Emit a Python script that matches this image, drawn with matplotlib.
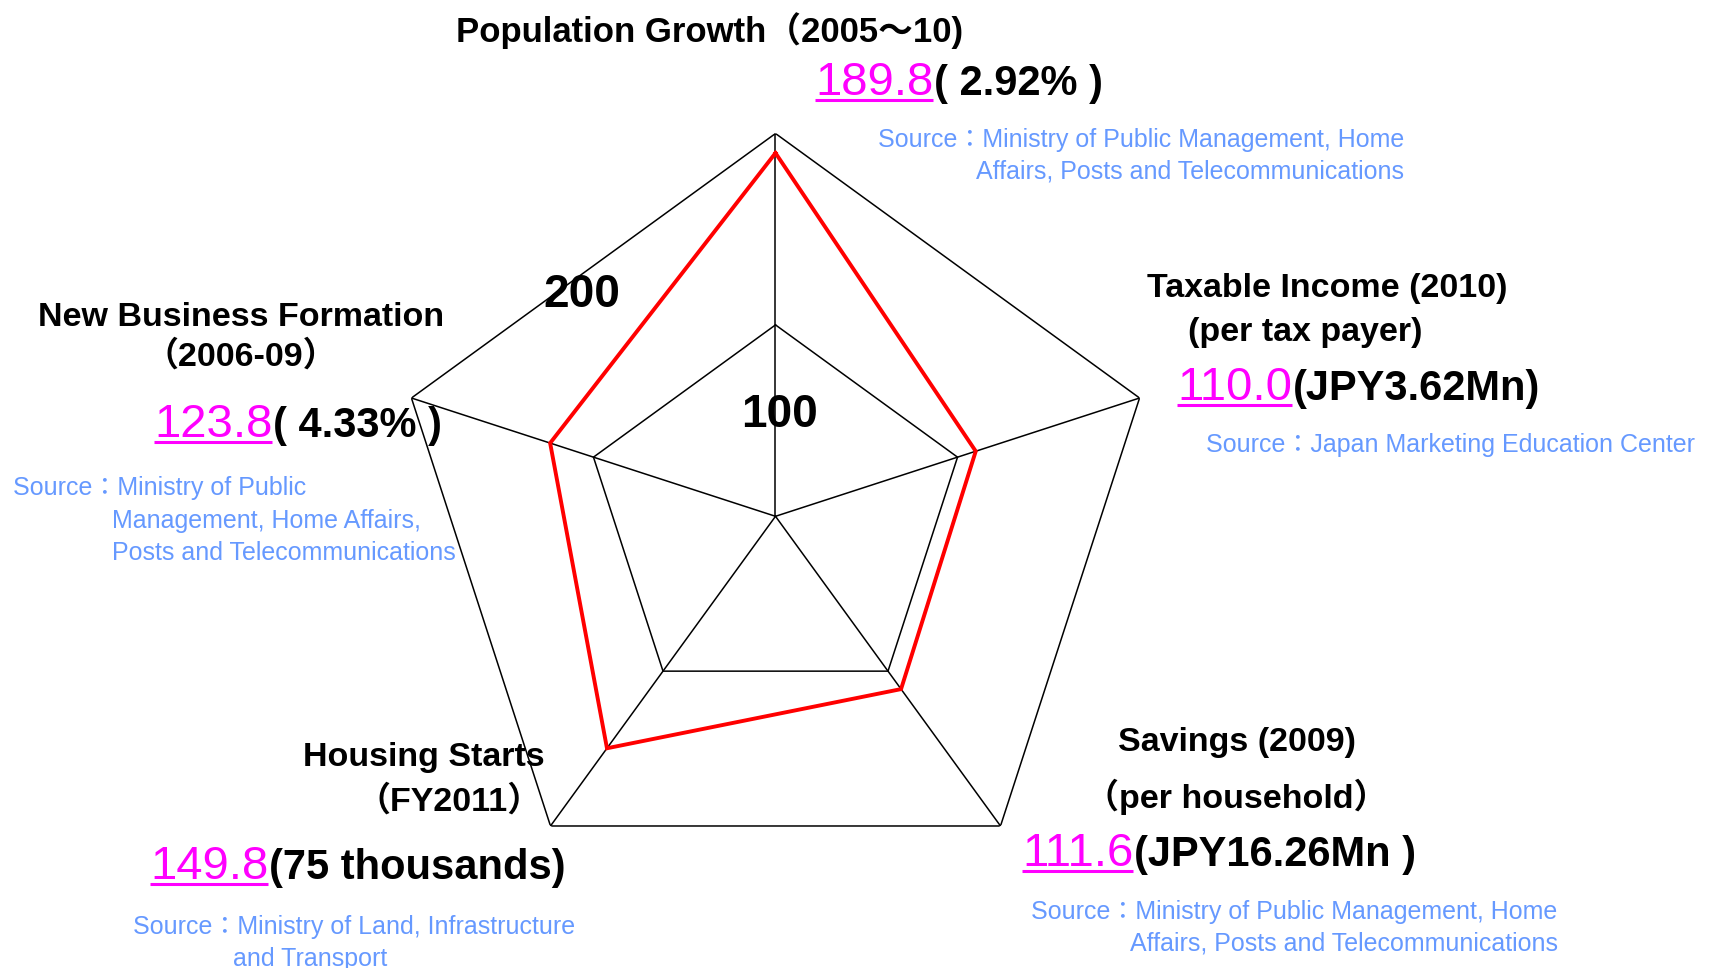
import numpy as np
import matplotlib
matplotlib.use('Agg')
import matplotlib.pyplot as plt

W, H = 1715, 968

categories = ['Population Growth', 'Taxable Income', 'Savings', 'Housing Starts', 'New Business Formation']
values = [189.8, 110.0, 111.6, 149.8, 123.8]
grid_levels = [100, 200]
value_notes = ['( 2.92% )', '(JPY3.62Mn)', '(JPY16.26Mn )', '(75 thousands)', '( 4.33% )']

plt.rcParams['font.family'] = ['Liberation Sans', 'Noto Sans CJK JP', 'DejaVu Sans']

MAGENTA = '#ff00ff'
BLUE = '#6699ff'

fig = plt.figure(figsize=(W / 100, H / 100), dpi=100)
fig.patch.set_facecolor('white')

# radar in a polar axes, centre at (775, 516) px from top, radius 383 px
cx, cy, rad = 775.5, 516.3, 382.8
ax = fig.add_axes([(cx - rad) / W, (H - cy - rad) / H, 2 * rad / W, 2 * rad / H], projection='polar')
ax.set_theta_offset(np.pi / 2)
ax.set_theta_direction(-1)
ax.set_ylim(0, 200)
ax.grid(False)
ax.spines['polar'].set_visible(False)
ax.set_xticks([])
ax.set_yticks([])
ax.patch.set_alpha(0)

n = len(categories)
theta = np.linspace(0, 2 * np.pi, n, endpoint=False)
theta_c = np.append(theta, theta[0])
for lvl in grid_levels:
    ax.plot(theta_c, [lvl] * (n + 1), color='black', lw=1.1, solid_joinstyle='miter')
for t in theta:
    ax.plot([t, t], [0, grid_levels[-1]], color='black', lw=1.1)
ax.plot(theta_c, values + values[:1], color='#ff0000', lw=2.8, solid_joinstyle='miter')

# overlay axes in pixel coordinates for the text annotations
ov = fig.add_axes([0, 0, 1, 1])
ov.set_xlim(0, W)
ov.set_ylim(H, 0)
ov.axis('off')
ov.patch.set_alpha(0)

renderer = fig.canvas.get_renderer()


def label(x, y, s, size=24.5, ha='left'):
    return ov.text(x, y, s, fontsize=size, color='black', ha=ha, va='baseline', fontweight='bold')


def value_line(x, y, num, note):
    t = ov.text(x, y, num, fontsize=34, color=MAGENTA, ha='left', va='baseline')
    bb = t.get_window_extent(renderer).transformed(ov.transData.inverted())
    ov.plot([bb.x0, bb.x1], [y + 5, y + 5], color=MAGENTA, lw=2.2, solid_capstyle='butt')
    ov.text(bb.x1 + 1, y, note, fontsize=30, color='black', ha='left', va='baseline', fontweight='bold')


def source(x, y, s):
    ov.text(x, y, s, fontsize=18, color=BLUE, ha='left', va='baseline')


# "200" and "100" level labels
ov.text(582, 307, str(grid_levels[1]), fontsize=33, fontweight='bold', ha='center', va='baseline')
ov.text(780, 427, str(grid_levels[0]), fontsize=33, fontweight='bold', ha='center', va='baseline')

# Population Growth
label(456, 42, categories[0] + '（2005～10)', size=25)
value_line(815, 95, f'{values[0]:.1f}', value_notes[0])
source(878, 147, 'Source：Ministry of Public Management, Home')
source(976, 179, 'Affairs, Posts and Telecommunications')

# Taxable Income
label(1147, 297, categories[1] + ' (2010)')
label(1188, 341, '(per tax payer)')
value_line(1177, 400, f'{values[1]:.1f}', value_notes[1])
source(1206, 452, 'Source：Japan Marketing Education Center')

# Savings
label(1237, 751, categories[2] + ' (2009)', ha='center')
label(1236, 808, '（per household）', ha='center')
value_line(1022, 866, f'{values[2]:.1f}', value_notes[2])
source(1031, 919, 'Source：Ministry of Public Management, Home')
source(1130, 951, 'Affairs, Posts and Telecommunications')

# Housing Starts
label(545, 766, categories[3], ha='right')
label(449, 811, '（FY2011）', ha='center')
value_line(150, 879, f'{values[3]:.1f}', value_notes[3])
source(133, 934, 'Source：Ministry of Land, Infrastructure')
source(233, 966, 'and Transport')

# New Business Formation
label(241, 326, categories[4], ha='center')
label(241, 366, '（2006-09）', ha='center')
value_line(154, 437, f'{values[4]:.1f}', value_notes[4])
source(13, 495, 'Source：Ministry of Public')
source(112, 528, 'Management, Home Affairs,')
source(112, 560, 'Posts and Telecommunications')

fig.savefig('out.png', dpi=100, facecolor='white')
